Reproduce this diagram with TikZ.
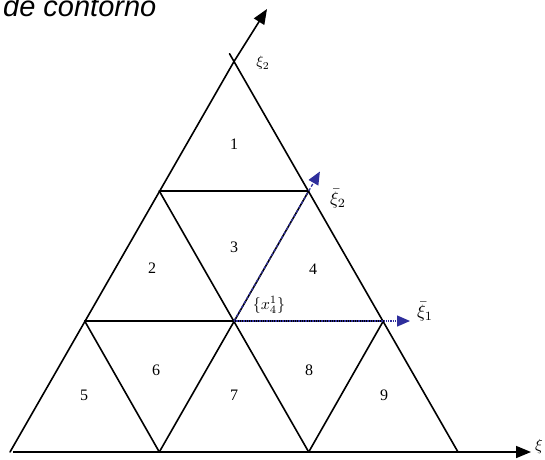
\documentclass[tikz,border=0pt]{standalone}
\usepackage{amsmath}
\usepackage{graphicx}
\usepackage{fontspec}
\usetikzlibrary{arrows.meta,calc}
\newfontfamily\titlefont{Liberation Sans}
\newfontfamily\numfont{Liberation Serif}
\definecolor{ink}   {HTML}{000000}
\definecolor{vecblue}{HTML}{2E2E9C}

\tikzset{
  edge/.style={draw=ink,line width=1.6pt,line cap=round},
  axisline/.style={draw=ink,line width=1.6pt,-{Triangle[length=15pt,width=12pt]}},
  localaxis/.style={draw=vecblue,line width=1.3pt,-{Triangle[length=13pt,width=11pt]}},
  elemnum/.style={font=\numfont\fontsize{16}{16}\selectfont,inner sep=0pt}
}

\begin{document}
\begin{tikzpicture}[x=1pt,y=-1pt]
  \useasboundingbox (0,0) rectangle (545,459);

  % vertices of the mesh
  \coordinate (A) at (10,452);
  \coordinate (B) at (159.3,452);
  \coordinate (C) at (308.7,452);
  \coordinate (D) at (458,452);
  \coordinate (E) at (84.7,321);
  \coordinate (F) at (234,321);
  \coordinate (G) at (383.3,321);
  \coordinate (H) at (159.3,191);
  \coordinate (I) at (308.7,191);
  \coordinate (J) at (234,61.5);
  \coordinate (axO) at (13,452);
  \coordinate (axX) at (531,452);
  \coordinate (axY) at (267,9);
  \coordinate (J2) at ($(D)!1.02!(J)$);
  \coordinate (tip2) at ($(F)!1.15!(I)$);
  \coordinate (tip1) at (410,321);

  \node[anchor=base west,inner sep=0pt,font=\titlefont\itshape\fontsize{29}{29}\selectfont]
    (title) at (3,16) {de contorno};

  % mesh
  \draw[edge] (A) -- (J);
  \draw[edge] (D) -- (J2);
  \draw[edge] (E) -- (G);
  \draw[edge] (H) -- (I);
  \draw[edge] (H) -- (C);
  \draw[edge] (I) -- (B);
  \draw[edge] (E) -- (B);
  \draw[edge] (G) -- (C);

  % global axes
  \draw[axisline] (axO) -- (axX);
  \draw[axisline] (J) -- (axY);

  % local axes of node x_4^1
  \draw[localaxis,densely dashed] (F) -- (tip2);
  \draw[localaxis,densely dotted] (F) -- (tip1);

  % element numbers
  \node[elemnum] (n1) at (234,144) {1};
  \node[elemnum] (n2) at (152,268) {2};
  \node[elemnum] (n3) at (234,247) {3};
  \node[elemnum] (n4) at (313,269) {4};
  \node[elemnum] (n5) at (84,395) {5};
  \node[elemnum] (n6) at (156,370) {6};
  \node[elemnum] (n7) at (234,395) {7};
  \node[elemnum] (n8) at (309,370) {8};
  \node[elemnum] (n9) at (384,395) {9};

  % labels
  \node[inner sep=1pt] (lxi2) at (263,63) {\scalebox{1.5}{$\xi_2$}};
  \node[inner sep=1pt] (lxb2) at (338,199) {\scalebox{1.8}{$\bar{\xi}_2$}};
  \node[inner sep=1pt] (lxb1) at (425,312) {\scalebox{1.8}{$\bar{\xi}_1$}};
  \node[inner sep=1pt] (lx41) at (269,305) {\scalebox{1.6}{$\{x_4^1\}$}};
  \node[inner sep=1pt] (lxi) at (539,446) {\scalebox{1.6}{$\xi$}};
\end{tikzpicture}
\end{document}
